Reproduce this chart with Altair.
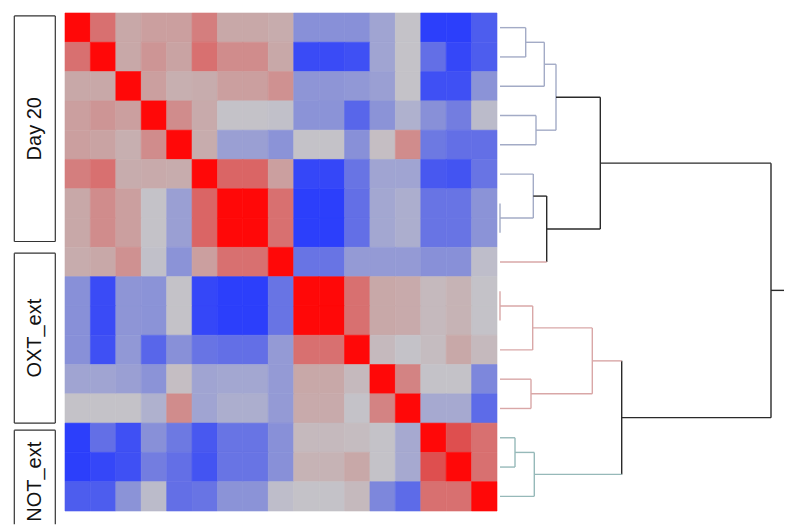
import altair as alt
import pandas as pd

# ---- correlation matrix, rows (17 samples) ----
r01 = [1, 0.6, 0.3, 0.35, 0.35, 0.5, 0.3, 0.3, 0.25, -0.5, -0.5, -0.45, -0.3, 0.0, -0.95, -0.95, -0.8]
r02 = [0.6, 1, 0.3, 0.4, 0.35, 0.6, 0.45, 0.45, 0.35, -0.9, -0.9, -0.85, -0.3, 0.0, -0.7, -0.9, -0.8]
r03 = [0.3, 0.3, 1, 0.35, 0.25, 0.25, 0.35, 0.35, 0.45, -0.45, -0.45, -0.4, -0.35, 0.0, -0.85, -0.85, -0.5]
r04 = [0.35, 0.4, 0.35, 1, 0.45, 0.3, 0.0, 0.0, -0.05, -0.5, -0.5, -0.75, -0.5, -0.25, -0.5, -0.6, -0.05]
r05 = [0.35, 0.3, 0.2, 0.45, 1, 0.25, -0.35, -0.35, -0.5, 0.0, 0.0, -0.5, 0.05, 0.45, -0.65, -0.7, -0.7]
r06 = [0.55, 0.6, 0.25, 0.25, 0.25, 1, 0.65, 0.65, 0.4, -0.9, -0.9, -0.65, -0.3, -0.35, -0.8, -0.85, -0.65]
r07 = [0.3, 0.45, 0.35, 0.0, -0.35, 0.65, 1, 1, 0.6, -0.95, -0.95, -0.7, -0.3, -0.25, -0.65, -0.65, -0.5]
r08 = [0.3, 0.45, 0.35, 0.0, -0.35, 0.65, 1, 1, 0.6, -0.95, -0.95, -0.7, -0.3, -0.25, -0.65, -0.65, -0.5]
r09 = [0.25, 0.25, 0.4, 0.0, -0.45, 0.3, 0.6, 0.6, 1, -0.65, -0.65, -0.3, -0.4, -0.4, -0.5, -0.5, -0.05]
r10 = [-0.5, -0.85, -0.45, -0.45, 0.0, -0.9, -0.95, -0.95, -0.65, 1, 1, 0.6, 0.3, 0.3, 0.15, 0.2, 0.0]
r11 = [-0.5, -0.85, -0.45, -0.45, 0.0, -0.9, -0.95, -0.95, -0.65, 1, 1, 0.6, 0.3, 0.3, 0.15, 0.2, 0.0]
r12 = [-0.55, -0.85, -0.45, -0.7, -0.5, -0.65, -0.65, -0.65, -0.5, 0.6, 0.6, 1, 0.1, 0.0, 0.1, 0.3, 0.1]
r13 = [-0.3, -0.3, -0.35, -0.45, 0.05, -0.3, -0.25, -0.25, -0.4, 0.3, 0.3, 0.1, 1, 0.5, 0.0, 0.0, -0.55]
r14 = [0.0, 0.0, 0.0, -0.1, 0.45, -0.25, -0.15, -0.15, -0.4, 0.25, 0.25, 0.0, 0.5, 1, -0.25, -0.25, -0.7]
r15 = [-0.95, -0.65, -0.85, -0.5, -0.6, -0.8, -0.65, -0.65, -0.5, 0.05, 0.05, 0.05, 0.0, -0.25, 1, 0.75, 0.6]
r16 = [-0.95, -0.9, -0.85, -0.6, -0.65, -0.8, -0.65, -0.65, -0.5, 0.15, 0.15, 0.3, 0.0, -0.25, 0.75, 1, 0.6]
r17 = [-0.75, -0.75, -0.45, -0.1, -0.65, -0.65, -0.45, -0.45, -0.05, 0.0, 0.0, 0.1, -0.55, -0.7, 0.6, 0.6, 1]
rows = [r01, r02, r03, r04, r05, r06, r07, r08, r09, r10, r11, r12, r13, r14, r15, r16, r17]

# ---- groups (row spans of the side label boxes) ----
grp_names = ["Day 20", "OXT_ext", "NOT_ext"]
grp_top = [0.1, 8.2, 14.24]
grp_bottom = [7.8, 14.0, 17.45]
grp_text_y = [3.95, 11.1, 16.0]
grp_closed = [True, True, False]

# ---- dendrogram merges (left child, right child, height) ----
merge_name = ["n78", "n1011", "n12", "n1516", "n678", "n1314", "n1012", "n1517",
              "n45", "n123", "n69", "nA", "nOXT", "nDay", "nON", "root"]
merge_left = ["L7", "L10", "L1", "L15", "L6", "L13", "n1011", "n1516",
              "L4", "n12", "n678", "n123", "n1012", "nA", "nOXT", "nDay"]
merge_right = ["L8", "L11", "L2", "L16", "n78", "L14", "L12", "L17",
               "L5", "L3", "L9", "n45", "n1314", "n69", "n1517", "nON"]
merge_height = [0.0, 0.0, 0.257, 0.15, 0.333, 0.31, 0.327, 0.343,
                0.36, 0.443, 0.467, 0.56, 0.923, 1.003, 1.217, 2.71]

# ---- styles ----
BG, PK, TL, BK = "#a3abc6", "#d9a7a7", "#96b9b9", "#2a2a2a"
bracket_color = {"n78": BG, "n1011": PK, "n12": BG, "n1516": TL, "n678": BG, "n1314": PK,
                 "n1012": PK, "n1517": TL, "n45": BG, "n123": BG, "n69": BK, "nA": BG,
                 "nOXT": PK, "nDay": BK, "nON": BK, "root": BK}
up_color = {f"L{i}": BG for i in range(1, 9)}
up_color.update({f"L{i}": PK for i in range(9, 15)})
up_color.update({f"L{i}": TL for i in range(15, 18)})
up_color.update({"n78": BG, "n1011": PK, "n12": BG, "n1516": TL, "n678": BK, "n1314": PK,
                 "n1012": PK, "n1517": TL, "n45": BG, "n123": BG, "n69": BK, "nA": BK,
                 "nOXT": PK, "nDay": BK, "nON": BK, "root": BK})

N = len(rows)
HEAT_W, HEAT_H = 432, 498
LAB_W = 54
DEN_W = 285
DEN_MAX = 2.85

# ---- heatmap ----
cells = []
for i in range(N):
    for j in range(N):
        cells.append({"row": i + 1, "col": j + 1, "r": (rows[i][j] + rows[j][i]) / 2})
heat_df = pd.DataFrame(cells)

color_scale = alt.Scale(
    domain=[-1, -0.8, -0.5, 0, 0.3, 0.6, 0.8, 1],
    range=["#2236ff", "#4858f0", "#8890d8", "#c4c2c8", "#c8a8a8", "#d87070", "#e04444", "#ff0808"],
    interpolate="rgb",
)
heat = alt.Chart(heat_df).mark_rect(strokeWidth=0.6).encode(
    x=alt.X("col:O", axis=None, scale=alt.Scale(paddingInner=0, paddingOuter=0)),
    y=alt.Y("row:O", axis=None, scale=alt.Scale(paddingInner=0, paddingOuter=0)),
    color=alt.Color("r:Q", scale=color_scale, legend=None),
    stroke=alt.Stroke("r:Q", scale=color_scale, legend=None),
).properties(width=HEAT_W, height=HEAT_H)

# ---- dendrogram ----
pos = {f"L{i}": (0.0, i - 0.5) for i in range(1, N + 1)}
segs = []
for nm, a, b, h in zip(merge_name, merge_left, merge_right, merge_height):
    ha, ya = pos[a]
    hb, yb = pos[b]
    segs.append({"x": h, "x2": h, "y": ya, "y2": yb, "c": bracket_color[nm]})
    segs.append({"x": ha, "x2": h, "y": ya, "y2": ya, "c": up_color[a]})
    segs.append({"x": hb, "x2": h, "y": yb, "y2": yb, "c": up_color[b]})
    pos[nm] = (h, (ya + yb) / 2)
hr, yr = pos["root"]
segs.append({"x": hr, "x2": DEN_MAX - 0.01, "y": yr, "y2": yr, "c": up_color["root"]})
den_df = pd.DataFrame(segs)

yscale = alt.Scale(domain=[0, N], reverse=True, nice=False, zero=False)
den = alt.Chart(den_df).mark_rule(strokeWidth=1.4).encode(
    x=alt.X("x:Q", axis=None, scale=alt.Scale(domain=[0, DEN_MAX], nice=False, zero=False)),
    x2="x2:Q",
    y=alt.Y("y:Q", axis=None, scale=yscale),
    y2="y2:Q",
    color=alt.Color("c:N", scale=None, legend=None),
).properties(width=DEN_W, height=HEAT_H)

# ---- side label boxes ----
XL, XR = 6.3, 47.3
box = []
for nm, t, b, closed in zip(grp_names, grp_top, grp_bottom, grp_closed):
    box.append({"x": XL, "x2": XR, "y": t, "y2": t})
    box.append({"x": XL, "x2": XL, "y": t, "y2": b})
    box.append({"x": XR, "x2": XR, "y": t, "y2": b})
    if closed:
        box.append({"x": XL, "x2": XR, "y": b, "y2": b})
box_df = pd.DataFrame(box)
lab_df = pd.DataFrame({"name": grp_names,
                       "ymid": grp_text_y,
                       "xmid": [(XL + XR) / 2] * 3})
xlab = alt.Scale(domain=[0, LAB_W], nice=False, zero=False)
boxes = alt.Chart(box_df).mark_rule(strokeWidth=1.2, color="#333333").encode(
    x=alt.X("x:Q", axis=None, scale=xlab), x2="x2:Q",
    y=alt.Y("y:Q", axis=None, scale=yscale), y2="y2:Q",
)
texts = alt.Chart(lab_df).mark_text(angle=270, fontSize=20, font="Liberation Sans",
                                    color="#111111", align="center", baseline="middle").encode(
    x=alt.X("xmid:Q", axis=None, scale=xlab),
    y=alt.Y("ymid:Q", axis=None, scale=yscale),
    text="name:N",
)
labels = alt.layer(boxes, texts).properties(width=LAB_W, height=HEAT_H)

chart = alt.hconcat(labels, heat, den, spacing=3, bounds="flush").properties(
    padding={"left": 0, "top": 4, "right": 0, "bottom": 0}
).configure_view(stroke=None)

chart.save("out.html", embed_options={"renderer": "svg", "actions": False})
